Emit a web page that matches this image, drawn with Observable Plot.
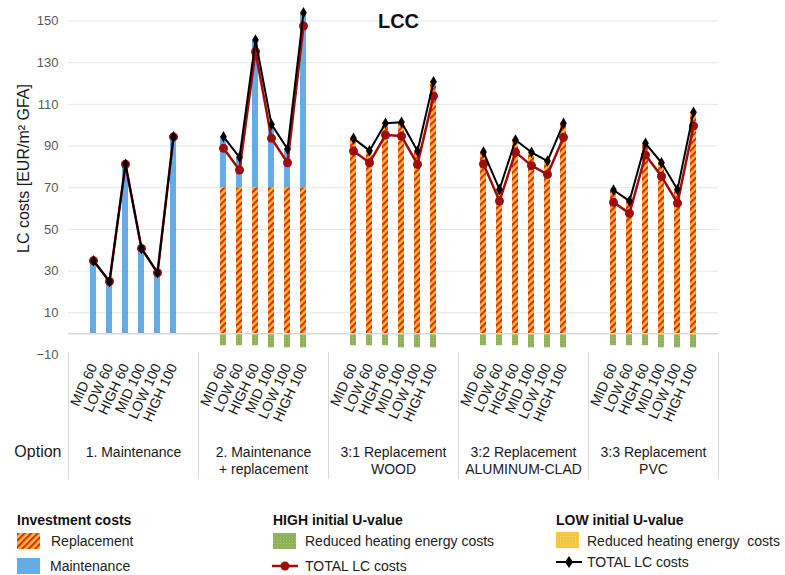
<!DOCTYPE html>
<html><head><meta charset="utf-8">
<script src="https://cdn.jsdelivr.net/npm/d3@7"></script>
<script src="https://cdn.jsdelivr.net/npm/@observablehq/plot@0.6"></script>
<style>
body{margin:0;background:#fff;font-family:"Liberation Sans",Arial,sans-serif;}
#wrap{position:relative;width:785px;height:575px;overflow:hidden;background:#fff}
.lg{position:absolute;font-size:14px;color:#222;line-height:18px;white-space:pre}
.hd{font-weight:bold;color:#111}
.sw{position:absolute}
</style></head><body>
<svg width="0" height="0" style="position:absolute">
  <defs>
    <pattern id="hatch" patternUnits="userSpaceOnUse" width="4.6" height="4.6" patternTransform="rotate(45)">
      <rect width="4.6" height="4.6" fill="#f4bf2f"/>
      <rect width="2.1" height="4.6" fill="#e4261b"/>
    </pattern>
    <pattern id="greenTex" patternUnits="userSpaceOnUse" width="3" height="3">
      <rect width="3" height="3" fill="#8db158"/>
      <circle cx="1.5" cy="1.5" r="0.7" fill="#a6c575"/>
    </pattern>
    <pattern id="yellowTex" patternUnits="userSpaceOnUse" width="3" height="3">
      <rect width="3" height="3" fill="#f2c53f"/>
      <circle cx="1.5" cy="1.5" r="0.7" fill="#f7d978"/>
    </pattern>
  </defs>
</svg>
<div id="wrap">
  <div id="chart"></div>
  <div class="lg hd" style="left:17px;top:511px">Investment costs</div>
  <svg class="sw" style="left:17px;top:533px" width="23" height="16"><rect width="23" height="16" fill="url(#hatch)"/></svg>
  <div class="lg" style="left:51px;top:532px">Replacement</div>
  <svg class="sw" style="left:17px;top:558px" width="23" height="16"><rect width="23" height="16" fill="#63ace5"/></svg>
  <div class="lg" style="left:50px;top:557px">Maintenance</div>

  <div class="lg hd" style="left:273px;top:511px">HIGH initial U-value</div>
  <svg class="sw" style="left:273px;top:533px" width="23" height="16"><rect width="23" height="16" fill="url(#greenTex)"/></svg>
  <div class="lg" style="left:305px;top:532px">Reduced heating energy costs</div>
  <svg class="sw" style="left:272px;top:560px" width="26" height="12"><line x1="0" y1="6" x2="26" y2="6" stroke="#a00c0c" stroke-width="2.5"/><circle cx="13" cy="6" r="4.5" fill="#a00c0c"/></svg>
  <div class="lg" style="left:305px;top:557px">TOTAL LC costs</div>

  <div class="lg hd" style="left:556px;top:511px">LOW initial U-value</div>
  <svg class="sw" style="left:556px;top:532px" width="23" height="16"><rect width="23" height="16" fill="url(#yellowTex)"/></svg>
  <div class="lg" style="left:587px;top:532px">Reduced heating energy  costs</div>
  <svg class="sw" style="left:556px;top:556px" width="26" height="12"><line x1="0" y1="6" x2="26" y2="6" stroke="#000" stroke-width="2"/><polygon points="13,0 17,6 13,12 9,6" fill="#000"/></svg>
  <div class="lg" style="left:587px;top:553px">TOTAL LC costs</div>
</div>
<script>
const groups = ["1. Maintenance", "2. Maintenance\n+ replacement", "3:1 Replacement\nWOOD", "3:2 Replacement\nALUMINUM-CLAD", "3:3 Replacement\nPVC"];
const variants = ["MID 60", "LOW 60", "HIGH 60", "MID 100", "LOW 100", "HIGH 100"];
const parts = ["Replacement", "Maintenance", "Reduced heating energy costs (HIGH)"];

const replacement = [
  [0, 0, 0, 0, 0, 0],
  [70, 70, 70, 70, 70, 70],
  [93.7, 87.8, 100.9, 101.4, 87.6, 120.9],
  [87.1, 69.2, 92.9, 87.0, 82.8, 100.9],
  [68.9, 63.6, 91.3, 82.0, 69.2, 106.2]
];
const maintenance = [
  [35, 25, 81.3, 40.9, 29.2, 94.4],
  [24.5, 14.6, 70.9, 30.4, 18.6, 84],
  [0, 0, 0, 0, 0, 0],
  [0, 0, 0, 0, 0, 0],
  [0, 0, 0, 0, 0, 0]
];
const reducedHigh = [
  [0, 0, 0, 0, 0, 0],
  [-5.8, -5.8, -5.8, -6.8, -6.8, -6.8],
  [-5.8, -5.8, -5.8, -6.8, -6.8, -6.8],
  [-5.8, -5.8, -5.8, -6.8, -6.8, -6.8],
  [-5.8, -5.8, -5.8, -6.8, -6.8, -6.8]
];
const totalHigh = [
  [35, 25, 81.3, 40.9, 29.2, 94.4],
  [88.9, 78.5, 135.3, 93.7, 82.0, 147.6],
  [87.6, 82.0, 95.3, 94.8, 81.2, 114.0],
  [81.4, 63.6, 87.1, 80.6, 76.4, 94.2],
  [63.0, 57.7, 85.7, 75.5, 62.6, 99.6]
];
const totalLow = [
  [35, 25, 81.3, 40.9, 29.2, 94.4],
  [94.5, 84.6, 140.9, 100.4, 88.6, 154.0],
  [93.7, 87.8, 100.9, 101.4, 87.6, 120.9],
  [87.1, 69.2, 92.9, 87.0, 82.8, 100.9],
  [68.9, 63.6, 91.3, 82.0, 69.2, 106.2]
];
const yTicks = [-10, 10, 30, 50, 70, 90, 110, 130, 150];
const gridTicks = [10, 30, 50, 70, 90, 110, 130, 150];
const yLabel = "LC costs [EUR/m² GFA]";
const title = "LCC";
const optionLabel = "Option";

const barRows = [];
const points = [];
groups.forEach((g, gi) => variants.forEach((v, vi) => {
  const vals = [replacement[gi][vi], maintenance[gi][vi], reducedHigh[gi][vi]];
  vals.forEach((val, pi) => { if (val !== 0) barRows.push({group: g, variant: v, part: parts[pi], value: val}); });
  points.push({group: g, variant: v, high: totalHigh[gi][vi], low: totalLow[gi][vi]});
}));

const xDomain = ["pad-start", ...variants, "pad-end"];
const font = "Liberation Sans, Arial, sans-serif";

const chart = Plot.plot({
  width: 785, height: 490,
  marginLeft: 67, marginRight: 67, marginTop: 8, marginBottom: 136,
  style: {fontFamily: font, background: "#fff", overflow: "visible"},
  fx: {domain: groups, padding: 0, axis: null},
  x: {domain: xDomain, paddingInner: 0.6, paddingOuter: 0.3},
  y: {domain: [-10, 156]},
  color: {domain: parts, range: ["url(#hatch)", "#63ace5", "url(#greenTex)"]},
  marks: [
    Plot.gridY({ticks: gridTicks, stroke: "#e6e6e6", strokeOpacity: 1}),
    Plot.barY(barRows, {fx: "group", x: "variant", y: "value", fill: "part"}),
    Plot.ruleY([0], {stroke: "#d9d9d9", strokeWidth: 1.5}),
    Plot.frame({anchor: "left", stroke: "#d9d9d9", insetTop: 344, insetBottom: -124}),
    Plot.frame({anchor: "right", stroke: "#d9d9d9", insetTop: 344, insetBottom: -124}),
    Plot.line(points, {fx: "group", x: "variant", y: "high", stroke: "#a00c0c", strokeWidth: 2.5}),
    Plot.dot(points, {fx: "group", x: "variant", y: "high", r: 4.5, fill: "#a00c0c"}),
    Plot.line(points, {fx: "group", x: "variant", y: "low", stroke: "#000", strokeWidth: 2}),
    Plot.dot(points, {fx: "group", x: "variant", y: "low", symbol: "diamond", r: 3.5, fill: "#000"}),
    Plot.axisY({ticks: yTicks, tickSize: 0, tickPadding: 10, fontSize: 13, fill: "#595959", label: null}),
    Plot.axisX({ticks: variants, tickRotate: -65, tickSize: 0, tickPadding: 10, fontSize: 14, fill: "#1a1a1a", label: null}),
    Plot.text(groups, {fx: d => d, text: d => d, frameAnchor: "bottom", dy: 91, lineAnchor: "top", lineHeight: 1.19, fontSize: 14, fill: "#1a1a1a"}),
    Plot.text([groups[0]], {fx: d => d, text: () => optionLabel, frameAnchor: "bottom-left", textAnchor: "end", dx: -7, dy: 102, fontSize: 16, fill: "#1a1a1a"}),
    Plot.text([groups[0]], {fx: d => d, text: () => yLabel, frameAnchor: "left", textAnchor: "middle", rotate: -90, dx: -45, dy: -13, fontSize: 16, fill: "#1a1a1a"}),
    Plot.text([groups[2]], {fx: d => d, text: () => title, frameAnchor: "top", dx: 5, dy: 5, lineAnchor: "top", fontSize: 20, fontWeight: "bold", fill: "#111"})
  ]
});
document.getElementById("chart").appendChild(chart);
</script>
</body></html>
